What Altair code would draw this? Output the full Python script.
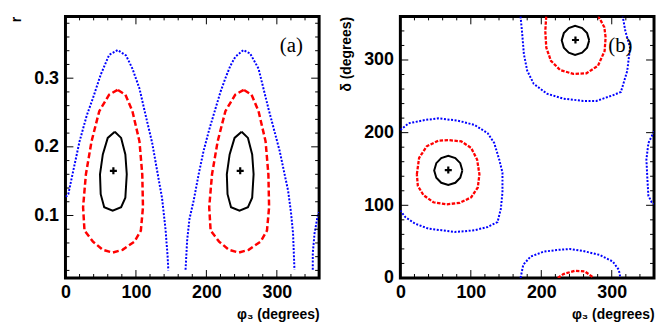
import altair as alt
import pandas as pd

# ---------------- Panel (a): r vs phi3 ----------------
a_blk1_phi = [70, 60, 53, 49, 50, 55, 67, 79, 85, 87, 85, 79, 70]
a_blk1_r = [0.222, 0.213, 0.189, 0.160, 0.131, 0.112, 0.107, 0.112, 0.126, 0.160, 0.189, 0.213, 0.222]
a_blk2_phi = [250, 240, 233, 229, 230, 235, 247, 259, 265, 267, 265, 259, 250]
a_blk2_r = [0.222, 0.213, 0.189, 0.160, 0.131, 0.112, 0.107, 0.112, 0.126, 0.160, 0.189, 0.213, 0.222]

a_red1_phi = [74, 62, 48, 37, 29, 25, 27, 39, 53, 67, 81, 98, 107, 110, 109, 105, 95, 85, 74]
a_red1_r = [0.283, 0.276, 0.252, 0.208, 0.160, 0.112, 0.078, 0.062, 0.050, 0.046, 0.050, 0.062,
            0.078, 0.112, 0.160, 0.208, 0.252, 0.276, 0.283]
a_red2_phi = [253, 241, 227, 216, 208, 204, 206, 218, 232, 246, 260, 277, 286, 289, 288, 284, 274, 264, 253]
a_red2_r = [0.283, 0.276, 0.252, 0.208, 0.160, 0.112, 0.078, 0.062, 0.050, 0.046, 0.050, 0.062,
            0.078, 0.112, 0.160, 0.208, 0.252, 0.276, 0.283]

a_blu1_phi = [0.5, 4, 10, 20, 30, 39, 50, 62, 74, 86, 95, 105, 114, 123, 131, 137, 142, 145, 146]
a_blu1_r = [0.127, 0.131, 0.160, 0.208, 0.245, 0.271, 0.305, 0.334, 0.341, 0.333, 0.314, 0.285,
            0.245, 0.206, 0.160, 0.126, 0.080, 0.040, 0.020]
a_blu2_phi = [170.4, 172.7, 176, 182, 189, 196, 204, 213, 220, 227, 234, 241, 252.5, 262, 274, 281,
              288, 296, 304, 310, 316, 320, 323, 325]
a_blu2_r = [0.021, 0.064, 0.095, 0.122, 0.160, 0.194, 0.225, 0.256, 0.280, 0.300, 0.318, 0.331,
            0.341, 0.336, 0.314, 0.285, 0.256, 0.225, 0.194, 0.165, 0.136, 0.105, 0.074, 0.021]
a_blu3_phi = [351, 351, 353.5, 358, 360]
a_blu3_r = [0.021, 0.045, 0.074, 0.100, 0.105]

a_best_phi = [68, 248]
a_best_r = [0.165, 0.165]

# ---------------- Panel (b): delta vs phi3 ----------------
b_blk1_phi = [88, 85, 78, 68, 58, 51, 48, 51, 58, 68, 78, 85, 88]
b_blk1_d = [148, 158, 165, 168, 165, 158, 148, 138, 131, 128, 131, 138, 148]
b_blk2_phi = [268, 265, 258, 248, 239, 232, 229, 232, 239, 248, 258, 265, 268]
b_blk2_d = [327, 337, 344, 347, 344, 337, 327, 317, 310, 307, 310, 317, 327]

b_red1_phi = [23.4, 26.6, 37.4, 53.8, 67.8, 86.5, 100.5, 108.9, 112.2, 109.9, 100.5, 84.2, 65.5,
              46.8, 32.7, 24.8, 23.4]
b_red1_d = [142.7, 165.3, 181.2, 188.9, 189.8, 188, 178.9, 163, 142.7, 124.5, 111, 103.3, 101.4,
            104.2, 114.1, 126.8, 142.7]
b_red2_phi = [207, 205.7, 207.1, 213.7, 226.7, 245.4, 264.1, 280.5, 289.9, 291.3, 289.5, 284, 280.5]
b_red2_d = [360, 339.7, 317, 298.9, 286.2, 280.8, 281.7, 292.1, 312.5, 331, 345, 355, 360]
b_red3_phi = [223.5, 231.4, 247.8, 261.8, 273.5]
b_red3_d = [0, 5.4, 10, 9, 0.9]

b_blu1_phi = [0, 11.7, 35, 53.8, 81.8, 105.2, 123.9, 133.2, 140.3, 144.9, 144.9, 142.6, 137.9, 123.9,
              105.2, 91.2, 77.1, 58.4, 39.7, 21, 7, 0]
b_blu1_d = [203.8, 212.9, 217.4, 219.7, 216.5, 210.6, 199.3, 185.7, 163, 144.9, 117.8, 95.1, 77, 70.2,
            65.7, 64.3, 63.4, 65.7, 67.9, 74.7, 83.8, 92.8]
b_blu2_phi = [170.6, 173, 175.3, 180, 189.3, 208, 231.4, 259.5, 278.2, 301.5, 313, 322, 326, 319.3, 315.6]
b_blu2_d = [360, 335.1, 308, 285.3, 267.2, 253.6, 246.8, 243.7, 243.7, 251.4, 256, 285, 317, 339.7, 360]
b_blu3_phi = [170.6, 174.4, 184.7, 203.4, 222.1, 240.8, 259.5, 282.8, 301.5, 310, 312.3]
b_blu3_d = [0, 18.1, 29.4, 36.2, 38.5, 39.9, 37.1, 31.7, 22.6, 11.3, 0]
b_blu4_phi = [360, 352, 349.2, 350.6, 352, 356.7, 360]
b_blu4_d = [201.5, 185.7, 163, 135.9, 113.2, 104.2, 101.9]

b_best_phi = [68, 248.5]
b_best_d = [148.5, 327.5]

# ---------------- Axis ticks ----------------
x_major = [0, 100, 200, 300]
x_minor = [20, 40, 60, 80, 120, 140, 160, 180, 220, 240, 260, 280, 320, 340, 360]
ra_major = [0.1, 0.2, 0.3]
ra_minor = [0.02, 0.04, 0.06, 0.08, 0.12, 0.14, 0.16, 0.18, 0.22, 0.24, 0.26, 0.28,
            0.32, 0.34, 0.36, 0.38]
db_major = [0, 100, 200, 300]
db_minor = [20, 40, 60, 80, 120, 140, 160, 180, 220, 240, 260, 280, 320, 340, 360]

W = 256
H = 264

STYLES_A = {
    "1s": dict(color="black", strokeWidth=2),
    "2s": dict(color="#ff0000", strokeWidth=2.5, strokeDash=[6, 3]),
    "3s": dict(color="#0000ff", strokeWidth=2, strokeDash=[2, 1.6]),
}
STYLES_B = {
    "1s": dict(color="black", strokeWidth=2),
    "2s": dict(color="#ff0000", strokeWidth=2.3, strokeDash=[3.5, 1.5]),
    "3s": dict(color="#0000ff", strokeWidth=2, strokeDash=[2, 1.6]),
}


def build(segs):
    rows = []
    for level, seg, phis, vals in segs:
        for i, (p, v) in enumerate(zip(phis, vals)):
            rows.append(dict(level=level, seg=seg, ord=i, phi=p, val=v))
    return pd.DataFrame(rows)


def panel(segs, styles, best_phi, best_val, ydomain, ymajor, yminor, yfmt, ytitle, label, lx, ly):
    xs = alt.Scale(domain=[0, 360], nice=False, zero=False)
    ys = alt.Scale(domain=ydomain, nice=False, zero=False)
    xaxis = alt.Axis(values=x_major, title="φ₃ (degrees)", titleAnchor="end")
    yaxis = alt.Axis(values=ymajor, format=yfmt, title=ytitle, titleAnchor="end")

    def X():
        return alt.X("phi:Q", scale=xs, axis=xaxis)

    def Y():
        return alt.Y("val:Q", scale=ys, axis=yaxis)

    df = build(segs)
    layers = []
    for lev in ["3s", "2s", "1s"]:
        layers.append(
            alt.Chart(df).transform_filter(alt.datum.level == lev)
            .mark_line(clip=True, strokeCap="butt", **styles[lev])
            .encode(x=X(), y=Y(), detail="seg:N", order="ord:Q")
        )
    best = pd.DataFrame({"phi": best_phi, "val": best_val})
    layers.append(
        alt.Chart(best).mark_point(shape="M-1,0L1,0M0,-1L0,1", size=50, stroke="black",
                                   strokeWidth=2.2, filled=False, opacity=1)
        .encode(x=X(), y=Y())
    )
    # inward ticks
    xmaj = pd.DataFrame({"phi": x_major})
    xmin = pd.DataFrame({"phi": x_minor})
    ymaj = pd.DataFrame({"val": ymajor})
    ymin = pd.DataFrame({"val": yminor})
    for d, ln in [(xmaj, 8), (xmin, 4)]:
        layers.append(alt.Chart(d).mark_rule(color="black", strokeWidth=1)
                      .encode(x=X(), y=alt.value(H), y2=alt.value(H - ln)))
        layers.append(alt.Chart(d).mark_rule(color="black", strokeWidth=1)
                      .encode(x=X(), y=alt.value(0), y2=alt.value(ln)))
    for d, ln in [(ymaj, 8), (ymin, 4)]:
        layers.append(alt.Chart(d).mark_rule(color="black", strokeWidth=1)
                      .encode(y=Y(), x=alt.value(0), x2=alt.value(ln)))
        layers.append(alt.Chart(d).mark_rule(color="black", strokeWidth=1)
                      .encode(y=Y(), x=alt.value(W), x2=alt.value(W - ln)))
    txt = pd.DataFrame({"label": [label]})
    layers.append(alt.Chart(txt).mark_text(font="Liberation Serif", fontSize=21, color="black")
                  .encode(text="label:N", x=alt.value(lx), y=alt.value(ly)))
    return alt.layer(*layers).properties(width=W, height=H)


segs_a = [
    ("1s", "k1", a_blk1_phi, a_blk1_r), ("1s", "k2", a_blk2_phi, a_blk2_r),
    ("2s", "r1", a_red1_phi, a_red1_r), ("2s", "r2", a_red2_phi, a_red2_r),
    ("3s", "b1", a_blu1_phi, a_blu1_r), ("3s", "b2", a_blu2_phi, a_blu2_r),
    ("3s", "b3", a_blu3_phi, a_blu3_r),
]
segs_b = [
    ("1s", "k1", b_blk1_phi, b_blk1_d), ("1s", "k2", b_blk2_phi, b_blk2_d),
    ("2s", "r1", b_red1_phi, b_red1_d), ("2s", "r2", b_red2_phi, b_red2_d),
    ("2s", "r3", b_red3_phi, b_red3_d),
    ("3s", "b1", b_blu1_phi, b_blu1_d), ("3s", "b2", b_blu2_phi, b_blu2_d),
    ("3s", "b3", b_blu3_phi, b_blu3_d), ("3s", "b4", b_blu4_phi, b_blu4_d),
]

pa = panel(segs_a, STYLES_A, a_best_phi, a_best_r, [0.009, 0.39], ra_major, ra_minor, ".1f", "r",
           "(a)", 228, 30)
pb = panel(segs_b, STYLES_B, b_best_phi, b_best_d, [0, 360], db_major, db_minor, "d", "δ (degrees)",
           "(b)", 222, 30)

chart = alt.hconcat(pa, pb, spacing=17).properties(
    padding={"left": 0, "top": 5, "right": 0, "bottom": 0}
).configure_view(
    stroke="black", strokeWidth=3
).configure_axis(
    domain=False, ticks=False, grid=False, labelFlush=False,
    labelFont="Liberation Sans", labelFontWeight="bold", labelFontSize=18, labelColor="black",
    labelPadding=6,
    titleFont="Liberation Sans", titleFontWeight="bold", titleFontSize=14, titleColor="black",
    titlePadding=6,
).configure_axisY(labelPadding=7, titlePadding=10)

chart.save("out.html", embed_options={"renderer": "svg", "actions": False})
